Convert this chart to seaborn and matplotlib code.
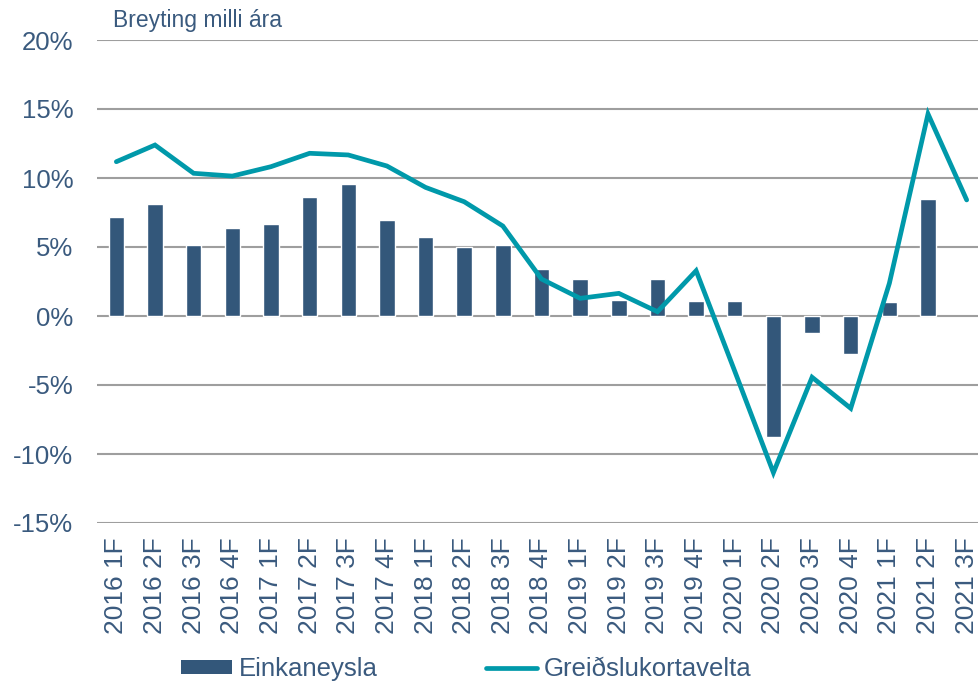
import numpy as np
import pandas as pd
import matplotlib
matplotlib.use("Agg")
import matplotlib.pyplot as plt
import seaborn as sns
from matplotlib.patches import Patch
from matplotlib.lines import Line2D

quarters = [
    "2016 1F", "2016 2F", "2016 3F", "2016 4F",
    "2017 1F", "2017 2F", "2017 3F", "2017 4F",
    "2018 1F", "2018 2F", "2018 3F", "2018 4F",
    "2019 1F", "2019 2F", "2019 3F", "2019 4F",
    "2020 1F", "2020 2F", "2020 3F", "2020 4F",
    "2021 1F", "2021 2F", "2021 3F",
]
# Einkaneysla (private consumption), % change y/y; no figure yet for 2021 3F
einkaneysla = [7.15, 8.1, 5.17, 6.38, 6.64, 8.65, 9.54, 6.98, 5.7, 5.02, 5.12, 3.4,
               2.66, 1.16, 2.7, 1.09, 1.06, -8.79, -1.26, -2.75, 1.01, 8.45, np.nan]
# Greiðslukortavelta (card turnover), % change y/y
kortavelta = [11.18, 12.39, 10.34, 10.14, 10.82, 11.79, 11.67, 10.87, 9.32, 8.28, 6.52, 2.68,
              1.28, 1.64, 0.31, 3.28, -4.0, -11.35, -4.44, -6.69, 2.37, 14.64, 8.41]
yticks = [-15, -10, -5, 0, 5, 10, 15, 20]

BAR = "#33577A"
LINE = "#0099AA"
TXT = "#3A5A7E"
GRID = "#9E9E9E"

df = pd.DataFrame({"quarter": quarters, "einkaneysla": einkaneysla, "kort": kortavelta})
df["pos"] = np.arange(len(df))

sns.set_style("white")
plt.rcParams["font.family"] = ["Liberation Sans", "DejaVu Sans"]

fig = plt.figure(figsize=(9.79, 6.83), dpi=100)
ax = fig.add_axes([97 / 979, 160 / 683, (986 - 97) / 979, 483 / 683])

sns.barplot(data=df, x="quarter", y="einkaneysla", color=BAR, width=0.4,
            saturation=1, ax=ax, zorder=2)
sns.lineplot(data=df, x="pos", y="kort", color=LINE, linewidth=3.4, ax=ax,
             zorder=3, solid_capstyle="round", solid_joinstyle="miter")

ax.set_xlim(-0.5, len(df) - 0.5)
ax.set_ylim(-15, 20)
ax.set_yticks(yticks)
ax.set_yticklabels([f"{v}%" for v in yticks])
ax.set_xticks(df["pos"])
ax.set_xticklabels(quarters, rotation=90)
ax.yaxis.grid(True, color=GRID, linewidth=1.5, zorder=0)
ax.set_axisbelow(True)
ax.set_xlabel("")
ax.set_ylabel("")
for s in ax.spines.values():
    s.set_visible(False)
ax.tick_params(axis="y", length=0, pad=17, labelsize=18.5, labelcolor=TXT)
ax.tick_params(axis="x", length=0, pad=10, labelsize=19, labelcolor=TXT)

fig.text(113 / 979, 1 - 20 / 683, "Breyting milli ára", fontsize=16.5,
         color=TXT, va="center", ha="left")

handles = [Patch(facecolor=BAR, edgecolor="none", label="Einkaneysla"),
           Line2D([0], [0], color=LINE, linewidth=3.4, label="Greiðslukortavelta")]
leg = fig.legend(handles=handles, loc="center left", ncol=2, frameon=False,
                 bbox_to_anchor=(181 / 979, 1 - 669 / 683), borderpad=0,
                 borderaxespad=0, handlelength=2.0, handleheight=0.5,
                 handletextpad=0.25, columnspacing=4.2, fontsize=18.5)
for t in leg.get_texts():
    t.set_color(TXT)

fig.savefig("out.png", dpi=100)
